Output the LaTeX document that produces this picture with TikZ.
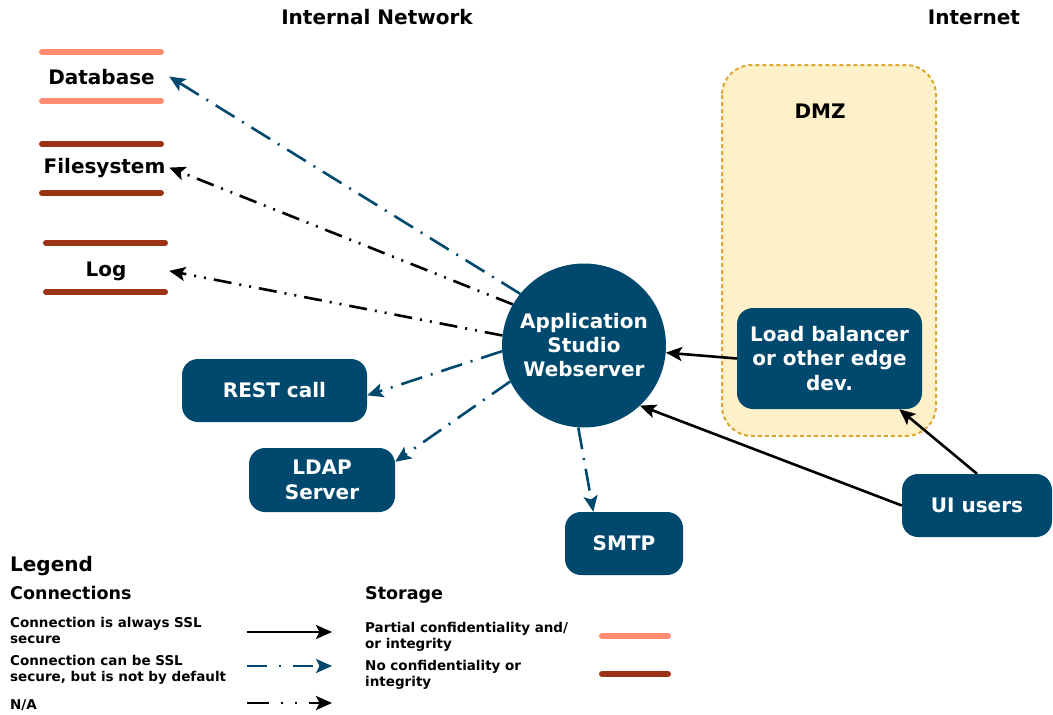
\documentclass[tikz,border=0pt]{standalone}
\usepackage{fontspec}
\setmainfont{DejaVu Sans}
\usetikzlibrary{arrows.meta}
\definecolor{dblue}{RGB}{0,73,110}
\definecolor{salm}{RGB}{255,140,115}
\definecolor{brwn}{RGB}{153,51,20}
\definecolor{dmzfill}{RGB}{254,240,200}
\definecolor{dmzline}{RGB}{218,168,48}
\tikzset{
  tip/.style={-{Stealth[length=16pt,width=14pt,inset=3.5pt]}},
  sol/.style={tip, line width=2.6pt, black},
  blu/.style={tip, line width=2.6pt, dblue, dash pattern=on 22pt off 9pt on 2pt off 9pt},
  blk/.style={tip, line width=2.6pt, black, dash pattern=on 18pt off 8pt on 2pt off 8pt on 2pt off 8pt},
  box/.style={fill=dblue, rounded corners=16pt, text=white, align=center, inner sep=0pt,
    font=\bfseries\fontsize{20}{24.5}\selectfont},
  hdr/.style={font=\bfseries\fontsize{20}{24}\selectfont, inner sep=0pt},
  stor/.style={font=\bfseries\fontsize{20}{24}\selectfont, inner sep=0pt, anchor=base},
  salline/.style={line width=6pt, salm, line cap=round},
  brline/.style={line width=6pt, brwn, line cap=round},
  lgbig/.style={font=\bfseries\fontsize{20}{24}\selectfont, inner sep=0pt, anchor=base west},
  lgmid/.style={font=\bfseries\fontsize{17.5}{21}\selectfont, inner sep=0pt, anchor=base west},
  lgtxt/.style={font=\bfseries\fontsize{13.5}{16}\selectfont, inner sep=0pt, anchor=west, align=left},
}
\begin{document}
\begin{tikzpicture}[x=1pt,y=-1pt]
\useasboundingbox (0,0) rectangle (1053,715);

% headers
\node[hdr, anchor=base] (hint) at (377,24) {Internal Network};
\node[hdr, anchor=base] (hinet) at (974,24) {Internet};

% DMZ
\draw[fill=dmzfill, draw=dmzline, line width=2pt, dash pattern=on 4pt off 3pt, rounded corners=30pt] (722,65) rectangle (936,436);
\node[hdr, anchor=base] (dmz) at (820,118) {DMZ};

% storage
\draw[salline] (42,52) -- (161,52);
\draw[salline] (42,101) -- (161,101);
\node[stor, minimum width=135pt] (db) at (101.5,84) {Database};
\draw[brline] (42,144) -- (161,144);
\draw[brline] (42,193) -- (161,193);
\node[stor, minimum width=129pt] (fs) at (104.5,173) {Filesystem};
\draw[brline] (46,243) -- (165,243);
\draw[brline] (46,292) -- (165,292);
\node[stor, minimum width=126pt] (log) at (106,276) {Log};

% nodes
\node[circle, fill=dblue, minimum size=164pt, inner sep=0pt, text=white, align=center,
  font=\bfseries\fontsize{20}{24}\selectfont] (app) at (584,345.5) {Application\\Studio\\Webserver};
\node[box, minimum width=185pt, minimum height=101pt] (lb) at (829.5,358.5) {Load balancer\\or other edge\\dev.};
\node[box, minimum width=150pt, minimum height=63pt] (ui) at (977,505.5) {UI users};
\node[box, minimum width=185pt, minimum height=63pt] (rest) at (274.5,390.5) {REST call};
\node[box, minimum width=146pt, minimum height=64pt] (ldap) at (322,480) {LDAP\\Server};
\node[box, minimum width=118pt, minimum height=63pt] (smtp) at (624,543.5) {SMTP};

% connectors
\draw[blu] (app.141) -- (db.east);
\draw[blk] (app.150) -- (fs.east);
\draw[blk] (app.173) -- (log.east);
\draw[blu] (app.184) -- (rest.-3);
\draw[blu] (app.206) -- (ldap.14);
\draw[blu] (app.266) -- (smtp.134);
\draw[sol] (lb.west) -- (app.355);
\draw[sol] (ui.west) -- (app.313);
\draw[sol] (ui.north) -- (lb.-36);

% legend
\node[lgbig] (leg) at (10,571) {Legend};
\node[lgmid] (conn) at (10,599) {Connections};
\node[lgtxt] (l1) at (10,630) {Connection is always SSL\\secure};
\node[lgtxt] (l2) at (10,669.5) {Connection can be SSL\\secure, but is not by default};
\node[lgtxt, anchor=base west] (l3) at (10,709) {N/A};
\coordinate (a1s) at (247,632); \coordinate (a1e) at (332,632);
\coordinate (a2s) at (247,666); \coordinate (a2e) at (332,666);
\coordinate (a3s) at (247,703); \coordinate (a3e) at (332,703);
\draw[sol] (a1s) -- (a1e);
\draw[blu, dash pattern=on 20pt off 12pt on 2pt off 12pt] (a2s) -- (a2e);
\draw[blk, dash pattern=on 22pt off 12pt on 2pt off 12pt on 2pt off 12pt] (a3s) -- (a3e);

\node[lgmid] (stg) at (365,599) {Storage};
\node[lgtxt] (s1) at (365,637) {Partial confidentiality and/\\or integrity};
\node[lgtxt] (s2) at (365,675) {No confidentiality or\\integrity};
\draw[salline] (602,636) -- (668,636);
\draw[brline] (602,674) -- (668,674);
\end{tikzpicture}
\end{document}
